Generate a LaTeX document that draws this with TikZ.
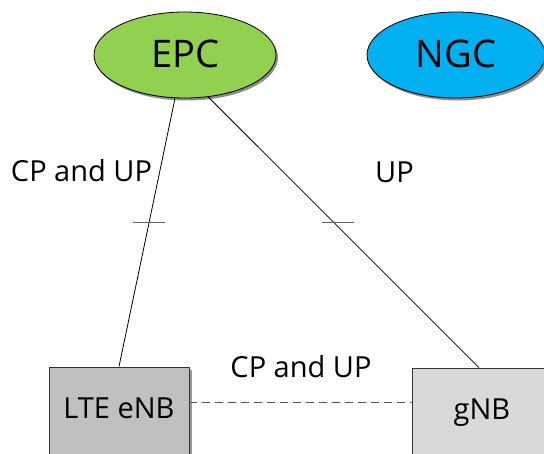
\documentclass[tikz,border=0pt]{standalone}
\usepackage{fontspec}
\setmainfont{Open Sans}
\usetikzlibrary{shapes.geometric,shadows}
\definecolor{epcgreen}{HTML}{92D050}
\definecolor{ngcblue}{HTML}{00B0F0}
\definecolor{enbgray}{HTML}{C0C0C0}
\definecolor{gnbgray}{HTML}{D9D9D9}
\definecolor{tickgray}{HTML}{606060}
\tikzset{
  core/.style={ellipse, draw=black, line width=0.8pt, minimum width=182pt, minimum height=86pt,
    inner sep=0pt, font=\fontsize{38}{44}\selectfont, text depth=3pt,
    drop shadow={shadow xshift=2pt, shadow yshift=-2.5pt, fill=black!45, opacity=1}},
  ran/.style={rectangle, draw=black!80, line width=0.8pt, minimum width=140pt, minimum height=120pt,
    inner sep=0pt, font=\fontsize{29}{34}\selectfont, text depth=38pt,
    drop shadow={shadow xshift=3pt, shadow yshift=-3pt, fill=black!40, opacity=1}},
  lbl/.style={font=\fontsize{29}{34}\selectfont, anchor=base, inner sep=0pt},
  link/.style={draw=black, line width=0.8pt},
  tickmark/.style={draw=tickgray, line width=1.2pt},
  xlink/.style={draw=black!65, line width=1pt, dash pattern=on 8pt off 5pt},
}
\begin{document}
\begin{tikzpicture}[x=1pt,y=-1pt]
\useasboundingbox (0,0) rectangle (544,454);
\clip (0,0) rectangle (544,454);
\node[core, fill=epcgreen] (epc) at (185,55) {EPC};
\node[core, fill=ngcblue, minimum width=178pt] (ngc) at (456,55) {NGC};
\node[ran, fill=enbgray] (enb) at (119,427) {LTE eNB};
\node[ran, fill=gnbgray] (gnb) at (482,428) {gNB};
\draw[link] (epc.257) -- coordinate[pos=0.463] (t1) (enb.north);
\draw[link] (epc.299) -- coordinate[pos=0.465] (t2) ([xshift=-3pt]gnb.north);
\draw[tickmark] ([xshift=-16pt]t1) -- ([xshift=16pt]t1);
\draw[tickmark] ([xshift=-12pt]t2) -- ([xshift=20pt]t2);
\draw[xlink] ([yshift=24pt]enb.east) -- ([yshift=25pt]gnb.west);
\node[lbl] (l1) at (81.5,182) {CP and UP};
\node[lbl] (l2) at (394.5,183) {UP};
\node[lbl] (l3) at (301,378) {CP and UP};
\end{tikzpicture}
\end{document}
